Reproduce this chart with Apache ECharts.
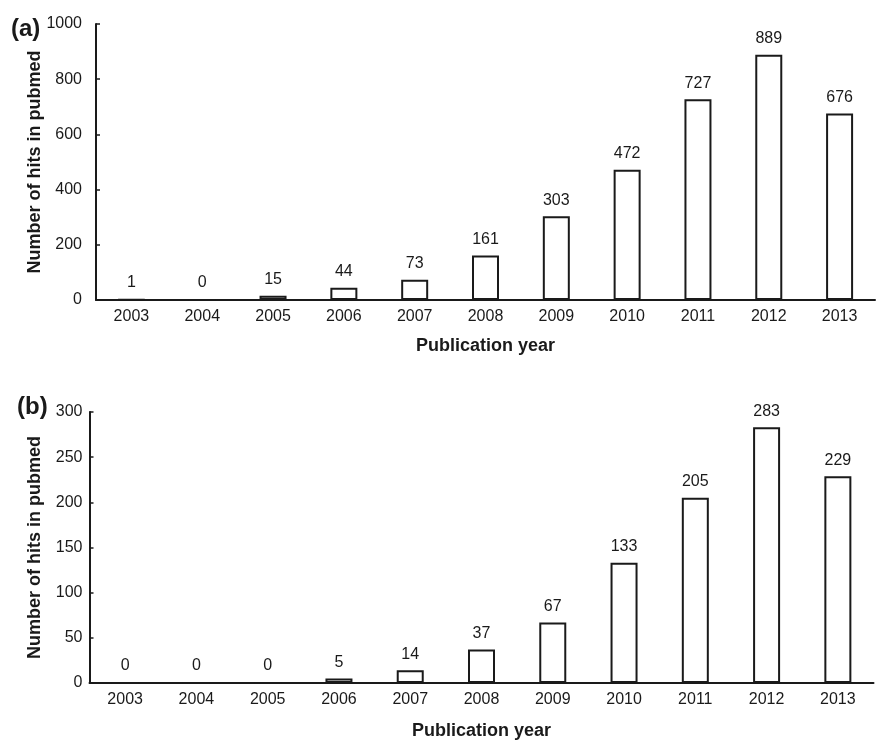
<!DOCTYPE html>
<html>
<head>
<meta charset="utf-8">
<script src="https://cdn.jsdelivr.net/npm/echarts@6/dist/echarts.min.js"></script>
<style>
  html, body { margin: 0; padding: 0; background: #fff; }
  #chart { width: 876px; height: 742px; }
</style>
</head>
<body>
<div id="chart"></div>
<script>
// data
var years = ['2003', '2004', '2005', '2006', '2007', '2008', '2009', '2010', '2011', '2012', '2013'];
var hitsA = [1, 0, 15, 44, 73, 161, 303, 472, 727, 889, 676];
var hitsB = [0, 0, 0, 5, 14, 37, 67, 133, 205, 283, 229];

var font = 'Liberation Sans, Arial, sans-serif';
var ink = '#1a1a1a';

function catAxis(idx) {
  return {
    type: 'category',
    gridIndex: idx,
    data: years,
    name: 'Publication year',
    nameLocation: 'middle',
    nameGap: idx === 0 ? 37 : 39,
    nameMoveOverlap: false,
    nameTextStyle: { fontFamily: font, fontSize: 18, fontWeight: 'bold', color: ink },
    axisLine: { lineStyle: { color: ink, width: 2 } },
    axisTick: { inside: true, length: 4, lineStyle: { color: ink, width: 1.5 } },
    axisLabel: { margin: 9, fontFamily: font, fontSize: 16, color: ink }
  };
}

function valAxis(idx, max, step, gap, margin) {
  return {
    type: 'value',
    gridIndex: idx,
    min: 0,
    max: max,
    interval: step,
    name: 'Number of hits in pubmed',
    nameLocation: 'middle',
    nameGap: gap,
    nameMoveOverlap: false,
    nameTextStyle: { fontFamily: font, fontSize: 18, fontWeight: 'bold', color: ink },
    axisLine: { show: true, lineStyle: { color: ink, width: 2 } },
    axisTick: { show: true, inside: true, length: 4, lineStyle: { color: ink, width: 1.5 } },
    axisLabel: { margin: margin, fontFamily: font, fontSize: 16, color: ink, formatter: function (v) { return String(v); } },
    splitLine: { show: false }
  };
}

function barSeries(idx, values) {
  return {
    type: 'bar',
    xAxisIndex: idx,
    yAxisIndex: idx,
    data: values,
    barWidth: 27,
    itemStyle: { color: '#fff', borderColor: ink, borderWidth: 2 },
    label: { show: true, position: 'top', distance: 8, fontFamily: font, fontSize: 16, color: ink },
    animation: false
  };
}

var chart = echarts.init(document.getElementById('chart'));

chart.setOption({
  backgroundColor: '#fff',
  animation: false,
  title: [
    { text: '(a)', left: 6, top: 12, textStyle: { fontFamily: font, fontSize: 24, fontWeight: 'bold', color: ink } },
    { text: '(b)', left: 12, top: 390, textStyle: { fontFamily: font, fontSize: 24, fontWeight: 'bold', color: ink } }
  ],
  grid: [
    { left: 96, right: 1, top: 24, height: 276 },
    { left: 89.5, right: 2.5, top: 412, height: 271 }
  ],
  xAxis: [catAxis(0), catAxis(1)],
  yAxis: [valAxis(0, 1000, 200, 52, 14), valAxis(1, 300, 50, 45, 7)],
  series: [barSeries(0, hitsA), barSeries(1, hitsB)]
});
</script>
</body>
</html>
